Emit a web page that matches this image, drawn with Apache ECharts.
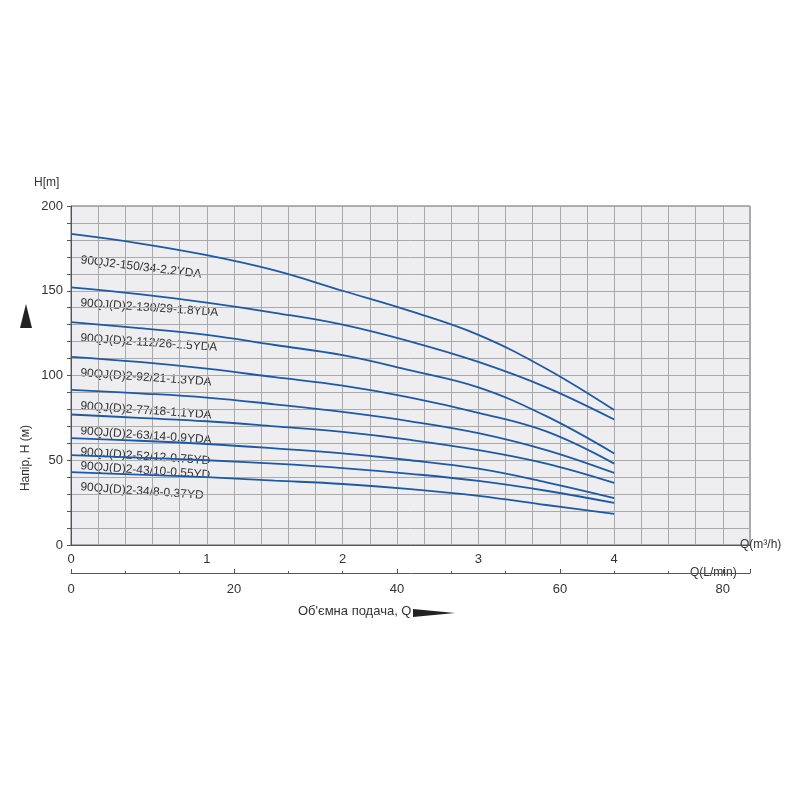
<!DOCTYPE html>
<html><head><meta charset="utf-8">
<script src="https://cdn.jsdelivr.net/npm/echarts@6/dist/echarts.min.js"></script>
<style>html,body{margin:0;background:#fff}#c{width:800px;height:800px}</style>
</head><body><div id="c"></div>
<script>
// flow points, m3/h
const flowQ = [0, 0.5, 1, 1.5, 2, 2.5, 3, 3.5, 4];
const modelNames = [
    '90QJ2-150/34-2.2YDA', '90QJ(D)2-130/29-1.8YDA', '90QJ(D)2-112/26-1.5YDA',
    '90QJ(D)2-92/21-1.3YDA', '90QJ(D)2-77/18-1.1YDA', '90QJ(D)2-63/14-0.9YDA',
    '90QJ(D)2-52/12-0.75YD', '90QJ(D)2-43/10-0.55YD', '90QJ(D)2-34/8-0.37YD'
];
const head150 = [183.5, 178, 171, 162, 150, 138, 124, 104, 79.6];
const head130 = [152, 148, 143, 137, 130, 120, 108, 93, 74];
const head112 = [131.5, 128, 124, 118, 112, 103, 93, 76, 54];
const head92 = [111, 108, 104, 99, 94, 87, 78, 67, 48];
const head77 = [91.5, 89.5, 87, 83, 78.5, 73, 66, 56, 42.5];
const head63 = [77, 75, 73, 70, 66.7, 62, 56, 48, 36.6];
const head52 = [63, 61.5, 59.6, 57, 54, 50, 45, 37, 27.7];
const head43 = [53, 51.5, 50, 48, 45.4, 42, 37.8, 32, 24.8];
const head34 = [43, 41.5, 40, 38, 36, 33, 29, 23.6, 18.3];
const heads = [head150, head130, head112, head92, head77, head63, head52, head43, head34];
const labelY = [262, 305, 340, 375, 408, 433, 454, 468, 489];

const chart = echarts.init(document.getElementById('c'));
const txt = '#333';
chart.setOption({
    animation: false,
    grid: {
        left: 71, right: 50, top: 206, bottom: 255,
        show: true, backgroundColor: '#eeeef0', borderColor: '#666', borderWidth: 1
    },
    xAxis: [
        {
            type: 'value', min: 0, max: 5, interval: 0.2, position: 'bottom',
            name: 'Q(m³/h)', nameGap: 2, nameTextStyle: { color: txt, fontSize: 12, padding: [20, 0, 0, -12] },
            axisLine: { lineStyle: { color: '#555' } },
            axisTick: { show: false },
            axisLabel: {
                color: txt, fontSize: 13, margin: 8,
                formatter: v => (Math.abs(v - Math.round(v)) < 1e-6 && v < 5) ? String(Math.round(v)) : ''
            },
            splitLine: { lineStyle: { color: '#aaa', width: 1 } }
        },
        {
            type: 'value', min: 0, max: 250 / 3, interval: 20, position: 'bottom', offset: 28,
            name: 'Q(L/min)', nameGap: -60, nameTextStyle: { color: txt, fontSize: 12, padding: [46, 0, 0, 0] },
            axisLine: { lineStyle: { color: '#555' } },
            axisTick: { show: true, inside: true, length: 4, lineStyle: { color: '#555' } },
            minorTick: { show: true, splitNumber: 3, length: 2, lineStyle: { color: '#555' } },
            axisLabel: { color: txt, fontSize: 13, margin: 10, showMaxLabel: false },
            splitLine: { show: false }
        }
    ],
    yAxis: {
        type: 'value', min: 0, max: 200, interval: 10,
        axisLine: { show: true, lineStyle: { color: '#555' } },
        axisTick: { show: true, length: 4, lineStyle: { color: '#555' }, interval: (i, v) => v % 25 === 0 },
        axisLabel: { color: txt, fontSize: 13, formatter: v => v % 50 === 0 ? String(v) : '' },
        splitLine: { lineStyle: { color: '#aaa', width: 1 } }
    },
    series: heads.map((h, i) => ({
        name: modelNames[i], type: 'line', smooth: 0.4, showSymbol: false,
        lineStyle: { color: '#1c5aa6', width: 1.8 },
        data: flowQ.map((q, j) => [q, h[j]])
    })),
    graphic: [
        ...modelNames.map((n, i) => ({
            type: 'text', left: 80, top: labelY[i] - 8, rotation: i === 0 ? -0.12 : -0.07,
            style: { text: n, fill: '#333', font: '12px Arial, "Liberation Sans"' }
        })),
        { type: 'text', left: 34, top: 177, style: { text: 'H[m]', fill: txt, font: '12px "Liberation Sans"' } },
        { type: 'text', left: 20, top: 425, rotation: Math.PI / 2,
          style: { text: 'Напір, H (м)', fill: txt, font: '12px "Liberation Sans"' } },
        { type: 'polygon', shape: { points: [[26, 328], [20, 304], [32, 304]].map(p => [p[0], 632 - p[1]]) },
          style: { fill: '#222' } },
        { type: 'text', left: 298, top: 605, style: { text: 'Об\'ємна подача, Q', fill: txt, font: '13px "Liberation Sans"' } },
        { type: 'polygon', shape: { points: [[413, 609], [413, 617], [455, 613]] }, style: { fill: '#222' } }
    ]
});
</script></body></html>
